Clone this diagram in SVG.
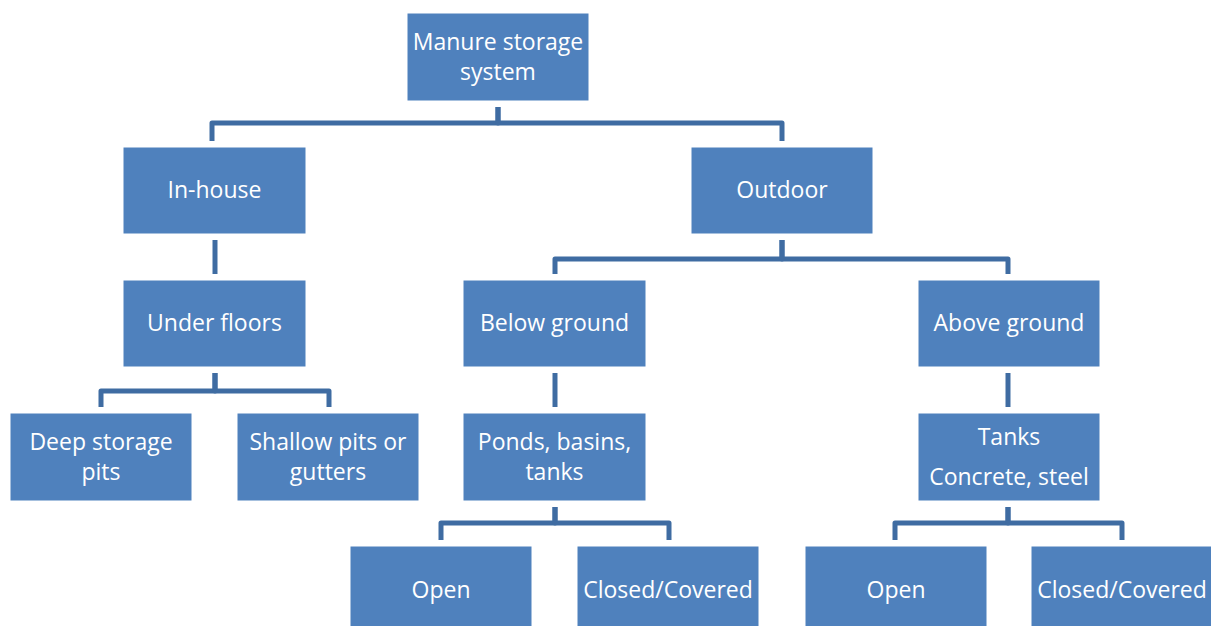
<svg xmlns="http://www.w3.org/2000/svg" width="1211" height="626" viewBox="0 0 1211 626">
<style>
.box{fill:#4F81BD;stroke:#ffffff;stroke-width:1}
.t{font-family:"Open Sans","Liberation Sans",sans-serif;font-size:23px;fill:#ffffff;text-anchor:middle}
.c{fill:none;stroke:#3F6CA2;stroke-width:5;stroke-linejoin:round;stroke-linecap:butt}
</style>
<rect width="1211" height="626" fill="#ffffff"/>
<g id="connectors">
<path class="c" d="M498,107 V123 H212 V141"/>
<path class="c" d="M498,107 V123 H782 V141"/>
<path class="c" d="M215,240 V274"/>
<path class="c" d="M782,240 V259 H555 V274"/>
<path class="c" d="M782,240 V259 H1008 V274"/>
<path class="c" d="M215,373 V391 H101 V407"/>
<path class="c" d="M215,373 V391 H329 V407"/>
<path class="c" d="M555,373 V407"/>
<path class="c" d="M1008,373 V407"/>
<path class="c" d="M555,507 V523 H441 V540"/>
<path class="c" d="M555,507 V523 H669 V540"/>
<path class="c" d="M1008,507 V523 H895 V540"/>
<path class="c" d="M1008,507 V523 H1122 V540"/>
</g>
<g id="root"><rect class="box" x="407" y="13" width="182" height="88"/><text class="t" x="498" y="50">Manure storage</text><text class="t" x="498" y="80">system</text></g>
<g id="inhouse"><rect class="box" x="123" y="147" width="183" height="87"/><text class="t" x="214.5" y="198">In-house</text></g>
<g id="outdoor"><rect class="box" x="691" y="147" width="182" height="87"/><text class="t" x="782" y="198">Outdoor</text></g>
<g id="underfloors"><rect class="box" x="123" y="280" width="183" height="87"/><text class="t" x="214.5" y="331">Under floors</text></g>
<g id="belowground"><rect class="box" x="463" y="280" width="183" height="87"/><text class="t" x="554.5" y="331">Below ground</text></g>
<g id="aboveground"><rect class="box" x="918" y="280" width="182" height="87"/><text class="t" x="1009" y="331">Above ground</text></g>
<g id="deep"><rect class="box" x="10" y="413" width="182" height="88"/><text class="t" x="101" y="450">Deep storage</text><text class="t" x="101" y="480">pits</text></g>
<g id="shallow"><rect class="box" x="237" y="413" width="182" height="88"/><text class="t" x="328" y="450">Shallow pits or</text><text class="t" x="328" y="480">gutters</text></g>
<g id="ponds"><rect class="box" x="463" y="413" width="183" height="88"/><text class="t" x="554.5" y="450">Ponds, basins,</text><text class="t" x="554.5" y="480">tanks</text></g>
<g id="tanks"><rect class="box" x="918" y="413" width="182" height="88"/><text class="t" x="1009" y="445">Tanks</text><text class="t" x="1009" y="485">Concrete, steel</text></g>
<g id="open1"><rect class="box" x="350" y="546" width="182" height="88"/><text class="t" x="441" y="598">Open</text></g>
<g id="closed1"><rect class="box" x="577" y="546" width="182" height="88"/><text class="t" x="668" y="598">Closed/Covered</text></g>
<g id="open2"><rect class="box" x="805" y="546" width="182" height="88"/><text class="t" x="896" y="598">Open</text></g>
<g id="closed2"><rect class="box" x="1031" y="546" width="182" height="88"/><text class="t" x="1122" y="598">Closed/Covered</text></g>
</svg>
